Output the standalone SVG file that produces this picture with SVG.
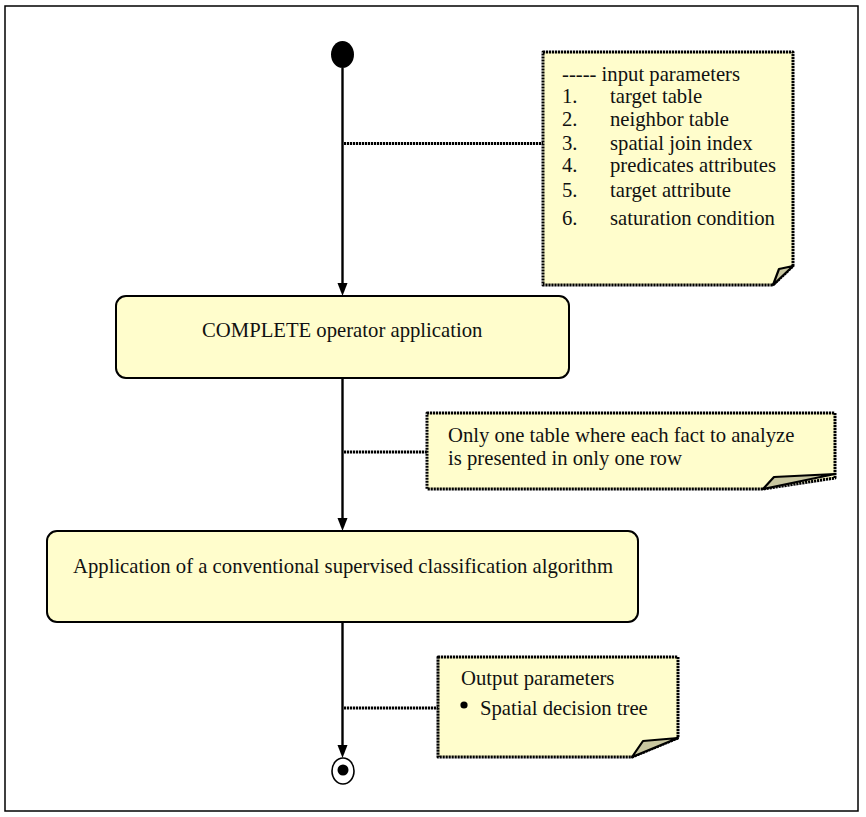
<svg xmlns="http://www.w3.org/2000/svg" width="866" height="817" viewBox="0 0 866 817">
  <defs>
    <style>
      .frame { fill: none; stroke: #000; stroke-width: 1.5; }
      .box { fill: #FFFDCC; stroke: #000; stroke-width: 2; }
      .note { fill: #FFFDCC; stroke: #000; stroke-width: 3; stroke-dasharray: 2.2 0.8; stroke-linejoin: round; }
      .flap { fill: #C8C6A0; stroke: #000; stroke-width: 2.2; stroke-linejoin: round; }
      .flow { fill: none; stroke: #000; stroke-width: 2.4; }
      .anchor { fill: none; stroke: #000; stroke-width: 3; stroke-dasharray: 2.2 0.8; }
      .head { fill: #000; stroke: none; }
      text { font-size: 20.7px; fill: #111; }
    </style>
  </defs>

  <rect class="frame" x="5" y="6" width="853" height="805"/>

  <g font-family="'Liberation Serif', 'Times New Roman', 'DejaVu Serif', serif">
    <!-- initial state -->
    <g id="start">
      <ellipse cx="342.5" cy="54.5" rx="11.5" ry="13.5" fill="#000"/>
    </g>

    <!-- activity: COMPLETE operator -->
    <g id="complete-operator">
      <rect class="box" x="116" y="296" width="453" height="82" rx="10" ry="10"/>
      <text x="202" y="337">COMPLETE operator application</text>
    </g>

    <!-- activity: classification -->
    <g id="classification">
      <rect class="box" x="47" y="531" width="591" height="91" rx="10" ry="10"/>
      <text x="73" y="573">Application of a conventional supervised classification algorithm</text>
    </g>

    <!-- final state -->
    <g id="end">
      <ellipse cx="343" cy="771" rx="11" ry="13" fill="none" stroke="#000" stroke-width="1.6"/>
      <circle cx="343" cy="770" r="5.5" fill="#000"/>
    </g>

    <!-- note: input parameters -->
    <g id="note-input">
      <path class="note" d="M543,52 H793 V266 L773,285 H543 Z"/>
      <path class="flap" d="M773,285 L779,269 L793,266 Z"/>
      <text x="562" y="81">----- input parameters</text>
      <text x="562" y="103">1.</text><text x="610" y="103">target table</text>
      <text x="562" y="126">2.</text><text x="610" y="126">neighbor table</text>
      <text x="562" y="150">3.</text><text x="610" y="150">spatial join index</text>
      <text x="562" y="172">4.</text><text x="610" y="172">predicates attributes</text>
      <text x="562" y="197">5.</text><text x="610" y="197">target attribute</text>
      <text x="562" y="225">6.</text><text x="610" y="225">saturation condition</text>
    </g>

    <!-- note: intermediate table -->
    <g id="note-table">
      <path class="note" d="M427,413 H835 V478 L763,489 H427 Z"/>
      <path class="flap" d="M763,489 L774,477 L835,474 Z"/>
      <text x="448" y="442">Only  one table where each fact to analyze</text>
      <text x="448" y="465">is presented in only one row</text>
    </g>

    <!-- note: output parameters -->
    <g id="note-output">
      <path class="note" d="M438,657 H678 V738 L632,757 H438 Z"/>
      <path class="flap" d="M632,757 L643,741 L678,738 Z"/>
      <text x="461" y="685">Output parameters</text>
      <circle cx="464" cy="705" r="3.6" fill="#000"/>
      <text x="480" y="715">Spatial decision tree</text>
    </g>
  </g>

  <!-- transitions and note anchors -->
  <g id="connectors">
    <line class="flow" x1="342.5" y1="68" x2="342.5" y2="284"/>
    <polygon class="head" points="337.5,283 347.5,283 342.5,296"/>
    <line class="flow" x1="342.5" y1="378" x2="342.5" y2="519"/>
    <polygon class="head" points="337.5,518 347.5,518 342.5,531"/>
    <line class="flow" x1="342.5" y1="622" x2="342.5" y2="746"/>
    <polygon class="head" points="337.5,745 347.5,745 342.5,758"/>
    <line class="anchor" x1="344" y1="143.5" x2="543" y2="143.5"/>
    <line class="anchor" x1="344" y1="452" x2="427" y2="452"/>
    <line class="anchor" x1="344" y1="708" x2="438" y2="708"/>
  </g>
</svg>
